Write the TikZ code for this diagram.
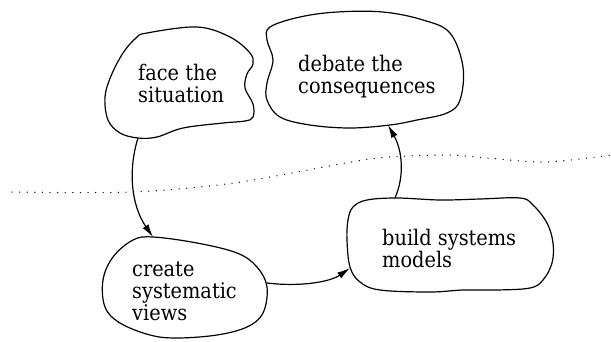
\documentclass[tikz,border=0pt]{standalone}
\usepackage{fontspec}
\setmainfont{DejaVu Serif Condensed}
\usetikzlibrary{arrows.meta}
\tikzset{
  blob/.style={draw=black, line width=1.2pt, line join=round},
  label/.style={anchor=base west, align=left, inner sep=0pt, font=\fontsize{21.5}{22}\selectfont},
  conn/.style={draw=black, line width=1.2pt, -{Latex[length=13pt,width=7pt]}},
  divider/.style={draw=black, line width=1.3pt, line cap=round, dash pattern=on 0.1pt off 7.5pt}
}
\begin{document}
\begin{tikzpicture}[x=1pt,y=-1pt]
\useasboundingbox (0,0) rectangle (611,341);
% blobs
\draw[blob] plot[smooth cycle, tension=0.6] coordinates {
 (147,33) (197,27) (230,37) (250,53) (253,64) (247,74) (245,88) (253,104) (253,117)
 (245,121) (223,123) (183,128) (157,137) (138,138) (120,133) (108,120) (105,97) (111,76) (123,53) (136,38)};
\draw[blob] plot[smooth cycle, tension=0.6] coordinates {
 (270,27) (300,17) (337,12) (383,12) (423,20) (450,33) (463,67) (460,100) (447,113)
 (417,120) (390,125) (350,128) (310,125) (280,117) (267,100) (267,83) (273,60) (267,40)};
\draw[blob] plot[smooth cycle, tension=0.6] coordinates {
 (153,237) (133,240) (113,257) (103,280) (105,307) (120,323) (150,335) (177,338) (217,335)
 (247,327) (263,313) (267,287) (257,267) (237,253) (197,243)};
\draw[blob] plot[smooth cycle, tension=0.6] coordinates {
 (353,207) (367,200) (397,198) (440,200) (480,199) (520,198) (533,205) (547,223) (553,243)
 (552,263) (543,280) (530,288) (497,290) (463,290) (430,292) (380,290) (360,282) (350,267)
 (347,240) (348,220)};
% texts (anchored at the baseline of their last line)
\node[label] (face) at (138,102) {face the\\situation};
\node[label] (debate) at (298,93) {debate the\\consequences};
\node[label] (create) at (132,320) {create\\systematic\\views};
\node[label] (build) at (382,267) {build systems\\models};
% connector ends on the blob outlines
\coordinate (faceOut) at (138,138);
\coordinate (createIn) at (153,237);
\coordinate (createOut) at (267,283);
\coordinate (buildIn) at (350,268);
\coordinate (buildOut) at (395,198);
\coordinate (debateIn) at (388,125);
% dotted divider
\draw[divider] plot[smooth, tension=0.5] coordinates {
 (12,192) (132,192) (234,183) (351,162) (390,157) (448,155) (487,158) (546,162) (611,155)};
% connectors
\draw[conn] (faceOut) .. controls (128,170) and (131,205) .. (createIn);
\draw[conn] (createOut) .. controls (300,287) and (330,282) .. (buildIn);
\draw[conn] (buildOut) .. controls (405,175) and (402,150) .. (debateIn);
\end{tikzpicture}
\end{document}
